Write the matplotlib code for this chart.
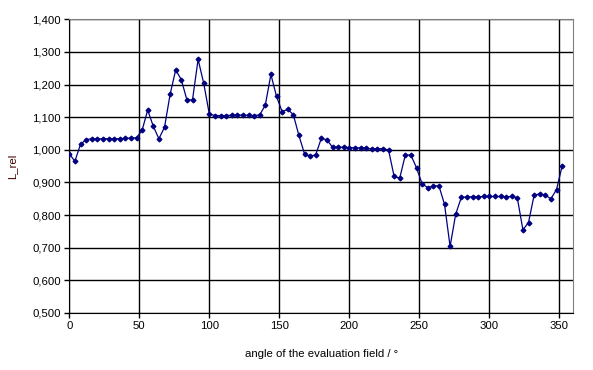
import numpy as np
import matplotlib
matplotlib.use("Agg")
import matplotlib.pyplot as plt
from matplotlib.ticker import FuncFormatter, MultipleLocator

angles = list(range(0, 356, 4))
l_rel = [
    0.988, 0.965, 1.017, 1.031, 1.034, 1.033, 1.034, 1.034, 1.034, 1.034,
    1.035, 1.036, 1.037, 1.060, 1.122, 1.072, 1.034, 1.069, 1.170, 1.245,
    1.215, 1.153, 1.153, 1.277, 1.204, 1.110, 1.105, 1.105, 1.105, 1.106,
    1.107, 1.106, 1.106, 1.105, 1.107, 1.137, 1.231, 1.164, 1.117, 1.124,
    1.108, 1.044, 0.988, 0.980, 0.985, 1.035, 1.031, 1.008, 1.008, 1.008,
    1.007, 1.006, 1.006, 1.005, 1.003, 1.004, 1.003, 1.000, 0.919, 0.913,
    0.984, 0.984, 0.945, 0.896, 0.884, 0.889, 0.890, 0.833, 0.704, 0.803,
    0.854, 0.856, 0.856, 0.856, 0.857, 0.857, 0.857, 0.857, 0.856, 0.857,
    0.853, 0.755, 0.777, 0.861, 0.865, 0.861, 0.850, 0.878, 0.950,
]
x_ticks = [0, 50, 100, 150, 200, 250, 300, 350]

plt.rcParams['font.family'] = ['Liberation Sans', 'DejaVu Sans']

fig = plt.figure(figsize=(5.93, 3.70), dpi=100)
ax = fig.add_axes([69.3 / 593, 1 - 313 / 370, (573.3 - 69.3) / 593, (313 - 19.3) / 370])

ax.plot(angles, l_rel, color='#000080', lw=0.9, marker='D', ms=2.4,
        mfc='#000080', mec='#000080', zorder=3)

ax.set_xlim(0, 360)
ax.set_ylim(0.5, 1.4)
ax.set_xticks(x_ticks)
ax.yaxis.set_major_locator(MultipleLocator(0.1))
ax.yaxis.set_major_formatter(FuncFormatter(lambda v, p: f"{v:.3f}".replace('.', ',')))

ax.grid(True, color='black', lw=1.0)
ax.set_axisbelow(True)
for s in ['top', 'right']:
    ax.spines[s].set_color('#808080')
for s in ['left', 'bottom']:
    ax.spines[s].set_color('black')
ax.tick_params(direction='out', length=3.5, width=1, labelsize=8.2, colors='black', pad=2.5)

ax.set_xlabel('angle of the evaluation field / °', fontsize=8.2, labelpad=13)
ax.set_ylabel('L_rel', fontsize=8.2, color='#400000', labelpad=11)

fig.savefig('out.png', dpi=100)
